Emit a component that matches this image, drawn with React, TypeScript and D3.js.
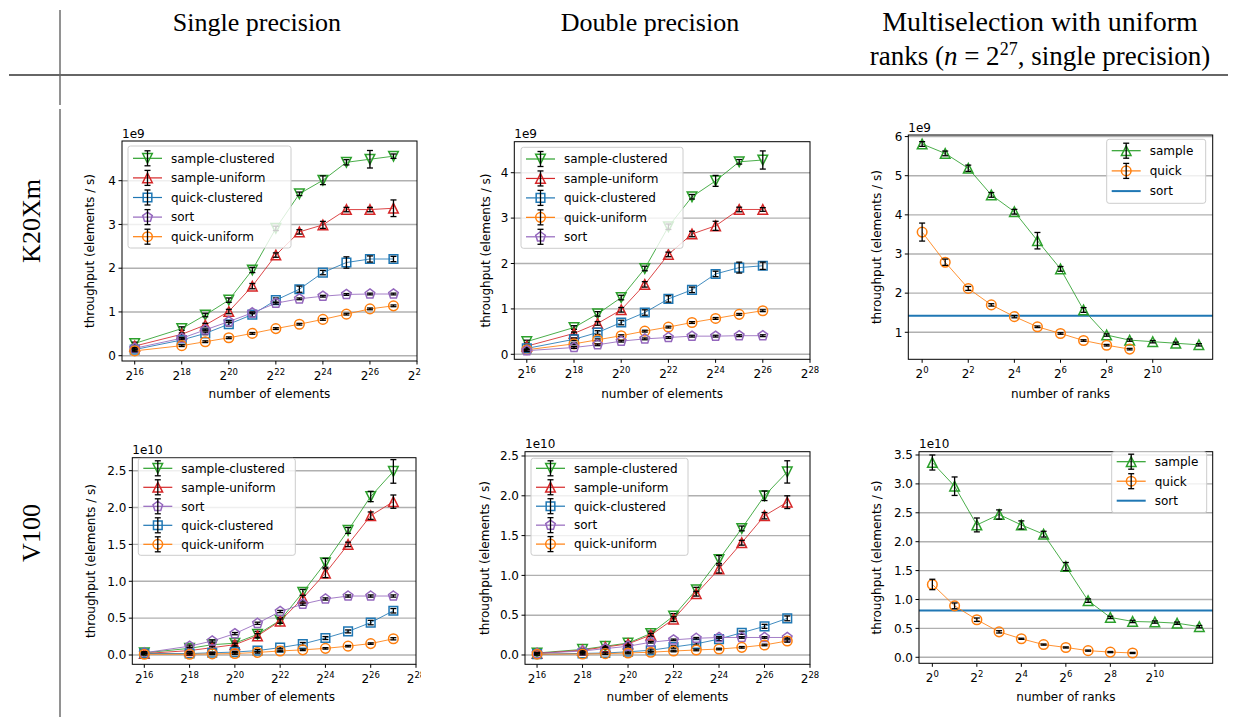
import React from 'react';
import * as d3 from 'd3';

// ---------------- data ----------------
const ELEM_EXP = [16, 18, 19, 20, 21, 22, 23, 24, 25, 26, 27];
const ELEM_EXP_DP_K20 = [16, 18, 19, 20, 21, 22, 23, 24, 25, 26];
const RANK_EXP = [0, 1, 2, 3, 4, 5, 6, 7, 8, 9, 10, 11, 12];
const RANK_EXP_QUICK = [0, 1, 2, 3, 4, 5, 6, 7, 8, 9];
const ELEM_TICKS = [16, 18, 20, 22, 24, 26, 28];
const RANK_TICKS = [0, 2, 4, 6, 8, 10];

// K20Xm single precision (1e9)
const K20_SP_SC = [0.28, 0.62, 0.93, 1.27, 1.96, 2.91, 3.7, 4.01, 4.42, 4.49, 4.56];
const K20_SP_SC_ERR = [0.03, 0.04, 0.04, 0.05, 0.06, 0.05, 0.04, 0.1, 0.06, 0.2, 0.05];
const K20_SP_SU = [0.22, 0.49, 0.7, 1.01, 1.59, 2.3, 2.83, 2.99, 3.34, 3.34, 3.37];
const K20_SP_SU_ERR = [0.03, 0.03, 0.04, 0.05, 0.06, 0.05, 0.05, 0.08, 0.05, 0.05, 0.19];
const K20_SP_QC = [0.14, 0.36, 0.51, 0.72, 0.94, 1.27, 1.52, 1.9, 2.13, 2.21, 2.21];
const K20_SP_QC_ERR = [0.02, 0.03, 0.03, 0.04, 0.05, 0.05, 0.07, 0.05, 0.13, 0.07, 0.06];
const K20_SP_SORT = [0.17, 0.4, 0.59, 0.78, 0.98, 1.2, 1.3, 1.36, 1.4, 1.41, 1.41];
const K20_SP_SORT_ERR = [0.02, 0.02, 0.02, 0.02, 0.02, 0.02, 0.02, 0.02, 0.02, 0.02, 0.02];
const K20_SP_QU = [0.11, 0.23, 0.32, 0.41, 0.51, 0.62, 0.72, 0.83, 0.95, 1.07, 1.14];
const K20_SP_QU_ERR = [0.02, 0.02, 0.02, 0.02, 0.02, 0.02, 0.02, 0.02, 0.02, 0.02, 0.02];

// K20Xm double precision (1e9)
const K20_DP_SC = [0.28, 0.59, 0.89, 1.25, 1.89, 2.81, 3.47, 3.82, 4.24, 4.28];
const K20_DP_SC_ERR = [0.03, 0.04, 0.05, 0.05, 0.05, 0.06, 0.05, 0.12, 0.05, 0.2];
const K20_DP_SU = [0.18, 0.46, 0.68, 0.98, 1.54, 2.2, 2.65, 2.83, 3.19, 3.19];
const K20_DP_SU_ERR = [0.03, 0.03, 0.04, 0.05, 0.06, 0.05, 0.06, 0.1, 0.05, 0.04];
const K20_DP_QC = [0.13, 0.33, 0.48, 0.7, 0.92, 1.22, 1.42, 1.77, 1.91, 1.95];
const K20_DP_QC_ERR = [0.02, 0.03, 0.04, 0.05, 0.06, 0.07, 0.06, 0.06, 0.12, 0.08];
const K20_DP_QU = [0.1, 0.23, 0.32, 0.41, 0.51, 0.6, 0.7, 0.79, 0.88, 0.96];
const K20_DP_QU_ERR = [0.02, 0.02, 0.02, 0.02, 0.02, 0.02, 0.02, 0.02, 0.02, 0.02];
const K20_DP_SORT = [0.08, 0.15, 0.21, 0.29, 0.34, 0.37, 0.4, 0.4, 0.41, 0.41];
const K20_DP_SORT_ERR = [0.02, 0.02, 0.02, 0.02, 0.02, 0.02, 0.02, 0.02, 0.02, 0.02];

// K20Xm multiselection (1e9)
const K20_MS_SAMPLE = [5.81, 5.57, 5.19, 4.51, 4.08, 3.34, 2.62, 1.57, 0.93, 0.8, 0.76, 0.72, 0.68];
const K20_MS_SAMPLE_ERR = [0.06, 0.06, 0.08, 0.06, 0.06, 0.21, 0.06, 0.06, 0.03, 0.03, 0.03, 0.03, 0.03];
const K20_MS_QUICK = [3.56, 2.79, 2.12, 1.7, 1.4, 1.14, 0.97, 0.79, 0.67, 0.57];
const K20_MS_QUICK_ERR = [0.23, 0.08, 0.05, 0.03, 0.03, 0.02, 0.02, 0.02, 0.02, 0.02];
const K20_MS_SORT = 1.42;

// V100 single precision (1e10)
const V100_SP_SC = [0.03, 0.09, 0.14, 0.16, 0.28, 0.47, 0.85, 1.25, 1.69, 2.15, 2.49];
const V100_SP_SC_ERR = [0.01, 0.01, 0.02, 0.03, 0.04, 0.04, 0.04, 0.06, 0.04, 0.07, 0.16];
const V100_SP_SU = [0.02, 0.06, 0.1, 0.14, 0.26, 0.46, 0.77, 1.11, 1.5, 1.89, 2.08];
const V100_SP_SU_ERR = [0.01, 0.01, 0.02, 0.02, 0.03, 0.03, 0.04, 0.06, 0.03, 0.05, 0.09];
const V100_SP_SORT = [0.03, 0.12, 0.19, 0.29, 0.43, 0.59, 0.69, 0.76, 0.8, 0.8, 0.8];
const V100_SP_SORT_ERR = [0.015, 0.015, 0.015, 0.015, 0.015, 0.015, 0.015, 0.015, 0.015, 0.015, 0.015];
const V100_SP_QC = [0.02, 0.02, 0.03, 0.04, 0.06, 0.1, 0.15, 0.23, 0.32, 0.44, 0.6];
const V100_SP_QC_ERR = [0.01, 0.01, 0.01, 0.01, 0.015, 0.015, 0.02, 0.02, 0.02, 0.03, 0.03];
const V100_SP_QU = [0.01, 0.01, 0.015, 0.02, 0.035, 0.055, 0.07, 0.09, 0.12, 0.155, 0.22];
const V100_SP_QU_ERR = [0.01, 0.01, 0.01, 0.01, 0.01, 0.01, 0.01, 0.01, 0.01, 0.01, 0.015];

// V100 double precision (1e10)
const V100_DP_SC = [0.025, 0.07, 0.11, 0.15, 0.27, 0.49, 0.82, 1.2, 1.59, 2.0, 2.3];
const V100_DP_SC_ERR = [0.01, 0.01, 0.01, 0.02, 0.03, 0.03, 0.03, 0.05, 0.03, 0.06, 0.14];
const V100_DP_SU = [0.02, 0.06, 0.1, 0.14, 0.25, 0.45, 0.77, 1.08, 1.41, 1.75, 1.92];
const V100_DP_SU_ERR = [0.01, 0.01, 0.01, 0.02, 0.02, 0.03, 0.03, 0.05, 0.03, 0.04, 0.08];
const V100_DP_QC = [0.01, 0.02, 0.025, 0.04, 0.06, 0.1, 0.14, 0.2, 0.28, 0.36, 0.46];
const V100_DP_QC_ERR = [0.01, 0.01, 0.01, 0.015, 0.015, 0.015, 0.015, 0.02, 0.02, 0.025, 0.03];
const V100_DP_SORT = [0.02, 0.05, 0.08, 0.11, 0.16, 0.19, 0.21, 0.22, 0.22, 0.22, 0.22];
const V100_DP_SORT_ERR = [0.01, 0.01, 0.01, 0.01, 0.01, 0.01, 0.01, 0.01, 0.01, 0.01, 0.01];
const V100_DP_QU = [0.01, 0.012, 0.017, 0.025, 0.035, 0.05, 0.063, 0.075, 0.096, 0.126, 0.176];
const V100_DP_QU_ERR = [0.01, 0.01, 0.01, 0.01, 0.01, 0.01, 0.01, 0.01, 0.01, 0.01, 0.015];

// V100 multiselection (1e10)
const V100_MS_SAMPLE = [3.37, 2.96, 2.29, 2.47, 2.29, 2.13, 1.57, 0.98, 0.69, 0.62, 0.61, 0.59, 0.53];
const V100_MS_SAMPLE_ERR = [0.13, 0.16, 0.12, 0.08, 0.07, 0.05, 0.07, 0.03, 0.02, 0.02, 0.02, 0.02, 0.02];
const V100_MS_QUICK = [1.26, 0.89, 0.65, 0.44, 0.32, 0.22, 0.17, 0.115, 0.09, 0.075];
const V100_MS_QUICK_ERR = [0.09, 0.05, 0.03, 0.02, 0.01, 0.01, 0.01, 0.01, 0.01, 0.01];
const V100_MS_SORT = 0.81;

const COL_HEADERS = ['Single precision', 'Double precision'];
const ROW_LABELS = ['K20Xm', 'V100'];

// ---------------- styling ----------------
const C = {
  blue: '#1f77b4',
  orange: '#ff7f0e',
  green: '#2ca02c',
  red: '#d62728',
  purple: '#9467bd',
};
const FONT = "'DejaVu Sans', Verdana, sans-serif";
const SERIF = "'Liberation Serif', 'Times New Roman', serif";

type Marker = 'v' | '^' | 's' | 'o' | 'p' | 'none';
interface Series {
  label: string;
  color: string;
  marker: Marker;
  xs: number[];
  ys: number[];
  err: number[];
}
interface HLine { label: string; color: string; value: number }

const SC = (xs: number[], ys: number[], err: number[]): Series => ({ label: 'sample-clustered', color: C.green, marker: 'v', xs, ys, err });
const SU = (xs: number[], ys: number[], err: number[]): Series => ({ label: 'sample-uniform', color: C.red, marker: '^', xs, ys, err });
const QC = (xs: number[], ys: number[], err: number[]): Series => ({ label: 'quick-clustered', color: C.blue, marker: 's', xs, ys, err });
const SO = (xs: number[], ys: number[], err: number[]): Series => ({ label: 'sort', color: C.purple, marker: 'p', xs, ys, err });
const QU = (xs: number[], ys: number[], err: number[]): Series => ({ label: 'quick-uniform', color: C.orange, marker: 'o', xs, ys, err });

function markerPath(m: Marker, r: number): string {
  switch (m) {
    case 'v':
      return `M0,${r}L${-r},${-r}L${r},${-r}Z`;
    case '^':
      return `M0,${-r}L${-r},${r}L${r},${r}Z`;
    case 's': {
      const s = r * 0.9;
      return `M${-s},${-s}L${s},${-s}L${s},${s}L${-s},${s}Z`;
    }
    case 'p': {
      const pts = d3.range(5).map((i) => {
        const a = -Math.PI / 2 + (i * 2 * Math.PI) / 5;
        return [r * 1.05 * Math.cos(a), r * 1.05 * Math.sin(a)];
      });
      return 'M' + pts.map((p) => p[0].toFixed(2) + ',' + p[1].toFixed(2)).join('L') + 'Z';
    }
    default:
      return '';
  }
}

function MarkerShape({ m, x, y, color }: { m: Marker; x: number; y: number; color: string }) {
  const r = 4.8;
  if (m === 'o') return <circle cx={x} cy={y} r={r} fill="none" stroke={color} strokeWidth={1.5} />;
  return <path d={markerPath(m, r)} transform={`translate(${x},${y})`} fill="none" stroke={color} strokeWidth={1.5} />;
}

function ErrBar({ x, y0, y1 }: { x: number; y0: number; y1: number }) {
  const cw = 3;
  return (
    <g stroke="#000" strokeWidth={1.3}>
      <line x1={x} x2={x} y1={y0} y2={y1} />
      <line x1={x - cw} x2={x + cw} y1={y0} y2={y0} />
      <line x1={x - cw} x2={x + cw} y1={y1} y2={y1} />
    </g>
  );
}

interface PanelCfg {
  left: number; right: number; top: number; bottom: number;
  xDom: [number, number]; // exponents of 2
  yDom: [number, number];
  yTicks: number[];
  yFmt: (v: number) => string;
  xTicks: number[];
  offset: string;
  xLabel: string;
  yLabelX: number;
  xLabelY: number;
  series: Series[];
  hline?: HLine;
  legend: { x: number; y: number; w: number; h: number; row0: number; dy: number };
  clipRight?: number;
  id: string;
}

function Panel({ cfg }: { cfg: PanelCfg }) {
  const x = d3.scaleLog().base(2).domain([Math.pow(2, cfg.xDom[0]), Math.pow(2, cfg.xDom[1])]).range([cfg.left, cfg.right]);
  const y = d3.scaleLinear().domain(cfg.yDom).range([cfg.bottom, cfg.top]);
  const line = d3.line<[number, number]>().x((d) => x(Math.pow(2, d[0]))).y((d) => y(d[1]));
  const midY = (cfg.top + cfg.bottom) / 2;
  const clipId = 'clip-' + cfg.id;
  const content = (
    <g fontFamily={FONT}>
      {/* grid */}
      {cfg.yTicks.map((t) => (
        <line key={'g' + t} x1={cfg.left} x2={cfg.right} y1={y(t)} y2={y(t)} stroke="#b0b0b0" strokeWidth={1.4} />
      ))}
      {/* horizontal reference line */}
      {cfg.hline && (
        <line x1={cfg.left} x2={cfg.right} y1={y(cfg.hline.value)} y2={y(cfg.hline.value)} stroke={cfg.hline.color} strokeWidth={2} />
      )}
      {/* series */}
      {cfg.series.map((s) => {
        const pts = s.xs.map((e, i) => [e, s.ys[i]] as [number, number]);
        return (
          <g key={s.label}>
            <path d={line(pts) || ''} fill="none" stroke={s.color} strokeWidth={1} strokeOpacity={0.85} />
            {pts.map((p, i) => (
              <MarkerShape key={'m' + i} m={s.marker} x={x(Math.pow(2, p[0]))} y={y(p[1])} color={s.color} />
            ))}
            {pts.map((p, i) => (
              <ErrBar key={'e' + i} x={x(Math.pow(2, p[0]))} y0={y(p[1] - s.err[i])} y1={y(p[1] + s.err[i])} />
            ))}
          </g>
        );
      })}
      {/* frame */}
      <rect x={cfg.left} y={cfg.top} width={cfg.right - cfg.left} height={cfg.bottom - cfg.top} fill="none" stroke="#000" strokeWidth={1} />
      {/* y ticks */}
      {cfg.yTicks.map((t) => (
        <g key={'yt' + t}>
          <line x1={cfg.left - 3.5} x2={cfg.left} y1={y(t)} y2={y(t)} stroke="#000" strokeWidth={1} />
          <text x={cfg.left - 6} y={y(t) + 4.3} textAnchor="end" fontSize={12} fill="#000">{cfg.yFmt(t)}</text>
        </g>
      ))}
      {/* x ticks */}
      {cfg.xTicks.map((t) => {
        const px = x(Math.pow(2, t));
        return (
          <g key={'xt' + t}>
            <line x1={px} x2={px} y1={cfg.bottom} y2={cfg.bottom + 3.5} stroke="#000" strokeWidth={1} />
            <text x={px} y={cfg.bottom + 18.5} textAnchor="middle" fontSize={12} fill="#000">
              <tspan>2</tspan>
              <tspan dy={-5} fontSize={8.5}>{String(t)}</tspan>
            </text>
          </g>
        );
      })}
      {/* offset text */}
      <text x={cfg.left} y={cfg.top - 3.5} fontSize={12} fill="#000">{cfg.offset}</text>
      {/* axis labels */}
      <text x={(cfg.left + cfg.right) / 2} y={cfg.xLabelY} textAnchor="middle" fontSize={12} fill="#000">{cfg.xLabel}</text>
      <text transform={`translate(${cfg.yLabelX},${midY}) rotate(-90)`} textAnchor="middle" dy={4} fontSize={12} fill="#000">
        throughput (elements / s)
      </text>
      {/* legend */}
      <g>
        <rect x={cfg.legend.x} y={cfg.legend.y} width={cfg.legend.w} height={cfg.legend.h} rx={2.5} fill="#fff" fillOpacity={0.8} stroke="#cccccc" strokeWidth={1} />
        {cfg.series.map((s, i) => {
          const cy = cfg.legend.row0 + i * cfg.legend.dy;
          const lx = cfg.legend.x + 5;
          return (
            <g key={'l' + s.label}>
              <line x1={lx} x2={lx + 29} y1={cy} y2={cy} stroke={s.color} strokeWidth={1.2} />
              <MarkerShape m={s.marker} x={lx + 14.5} y={cy} color={s.color} />
              <ErrBar x={lx + 14.5} y0={cy - 7.5} y1={cy + 7.5} />
              <text x={cfg.legend.x + 43} y={cy + 4.3} fontSize={12} fill="#000">{s.label}</text>
            </g>
          );
        })}
        {cfg.hline && (() => {
          const cy = cfg.legend.row0 + cfg.series.length * cfg.legend.dy;
          const lx = cfg.legend.x + 5;
          return (
            <g>
              <line x1={lx} x2={lx + 29} y1={cy} y2={cy} stroke={cfg.hline.color} strokeWidth={2} />
              <text x={cfg.legend.x + 43} y={cy + 4.3} fontSize={12} fill="#000">{cfg.hline.label}</text>
            </g>
          );
        })()}
      </g>
    </g>
  );
  if (cfg.clipRight) {
    return (
      <g>
        <defs>
          <clipPath id={clipId}>
            <rect x={0} y={0} width={cfg.clipRight} height={717} />
          </clipPath>
        </defs>
        <g clipPath={`url(#${clipId})`}>{content}</g>
      </g>
    );
  }
  return content;
}

const f0 = (v: number) => d3.format('d')(v);
const f1 = (v: number) => d3.format('.1f')(v);

const PANELS: PanelCfg[] = [
  {
    id: 'p1', left: 122, right: 417, top: 141, bottom: 361,
    xDom: [15.46, 28], yDom: [-0.121, 4.907], yTicks: [0, 1, 2, 3, 4], yFmt: f0, xTicks: ELEM_TICKS,
    offset: '1e9', xLabel: 'number of elements', yLabelX: 90, xLabelY: 398,
    series: [
      SC(ELEM_EXP, K20_SP_SC, K20_SP_SC_ERR),
      SU(ELEM_EXP, K20_SP_SU, K20_SP_SU_ERR),
      QC(ELEM_EXP, K20_SP_QC, K20_SP_QC_ERR),
      SO(ELEM_EXP, K20_SP_SORT, K20_SP_SORT_ERR),
      QU(ELEM_EXP, K20_SP_QU, K20_SP_QU_ERR),
    ],
    legend: { x: 128, y: 146, w: 163, h: 102, row0: 158.3, dy: 19.6 },
    clipRight: 421,
  },
  {
    id: 'p2', left: 514.3, right: 810, top: 141.7, bottom: 359.3,
    xDom: [15.47, 28], yDom: [-0.11, 4.683], yTicks: [0, 1, 2, 3, 4], yFmt: f0, xTicks: ELEM_TICKS,
    offset: '1e9', xLabel: 'number of elements', yLabelX: 486, xLabelY: 398,
    series: [
      SC(ELEM_EXP_DP_K20, K20_DP_SC, K20_DP_SC_ERR),
      SU(ELEM_EXP_DP_K20, K20_DP_SU, K20_DP_SU_ERR),
      QC(ELEM_EXP_DP_K20, K20_DP_QC, K20_DP_QC_ERR),
      QU(ELEM_EXP_DP_K20, K20_DP_QU, K20_DP_QU_ERR),
      SO(ELEM_EXP_DP_K20, K20_DP_SORT, K20_DP_SORT_ERR),
    ],
    legend: { x: 521, y: 147.3, w: 162, h: 101, row0: 159, dy: 19.45 },
  },
  {
    id: 'p3', left: 908.3, right: 1212.7, top: 135, bottom: 359.3,
    xDom: [-0.6, 12.6], yDom: [0.31, 6.04], yTicks: [1, 2, 3, 4, 5, 6], yFmt: f0, xTicks: RANK_TICKS,
    offset: '1e9', xLabel: 'number of ranks', yLabelX: 877, xLabelY: 398,
    series: [
      { label: 'sample', color: C.green, marker: '^', xs: RANK_EXP, ys: K20_MS_SAMPLE, err: K20_MS_SAMPLE_ERR },
      { label: 'quick', color: C.orange, marker: 'o', xs: RANK_EXP_QUICK, ys: K20_MS_QUICK, err: K20_MS_QUICK_ERR },
    ],
    hline: { label: 'sort', color: C.blue, value: K20_MS_SORT },
    legend: { x: 1106.7, y: 139.3, w: 99, h: 64, row0: 150.7, dy: 20.2 },
  },
  {
    id: 'p4', left: 132.3, right: 416, top: 457.7, bottom: 664.3,
    xDom: [15.47, 28], yDom: [-0.126, 2.676], yTicks: [0, 0.5, 1, 1.5, 2, 2.5], yFmt: f1, xTicks: ELEM_TICKS,
    offset: '1e10', xLabel: 'number of elements', yLabelX: 91, xLabelY: 701,
    series: [
      SC(ELEM_EXP, V100_SP_SC, V100_SP_SC_ERR),
      SU(ELEM_EXP, V100_SP_SU, V100_SP_SU_ERR),
      SO(ELEM_EXP, V100_SP_SORT, V100_SP_SORT_ERR),
      QC(ELEM_EXP, V100_SP_QC, V100_SP_QC_ERR),
      QU(ELEM_EXP, V100_SP_QU, V100_SP_QU_ERR),
    ],
    legend: { x: 138.3, y: 458.3, w: 157, h: 97, row0: 468.3, dy: 19 },
    clipRight: 421,
  },
  {
    id: 'p5', left: 525, right: 810, top: 451.7, bottom: 664.3,
    xDom: [15.47, 28], yDom: [-0.117, 2.554], yTicks: [0, 0.5, 1, 1.5, 2, 2.5], yFmt: f1, xTicks: ELEM_TICKS,
    offset: '1e10', xLabel: 'number of elements', yLabelX: 485, xLabelY: 701,
    series: [
      SC(ELEM_EXP, V100_DP_SC, V100_DP_SC_ERR),
      SU(ELEM_EXP, V100_DP_SU, V100_DP_SU_ERR),
      QC(ELEM_EXP, V100_DP_QC, V100_DP_QC_ERR),
      SO(ELEM_EXP, V100_DP_SORT, V100_DP_SORT_ERR),
      QU(ELEM_EXP, V100_DP_QU, V100_DP_QU_ERR),
    ],
    legend: { x: 531, y: 458.3, w: 157, h: 97, row0: 468.3, dy: 18.95 },
  },
  {
    id: 'p6', left: 919, right: 1212.7, top: 451.7, bottom: 663.3,
    xDom: [-0.6, 12.6], yDom: [-0.104, 3.557], yTicks: [0, 0.5, 1, 1.5, 2, 2.5, 3, 3.5], yFmt: f1, xTicks: RANK_TICKS,
    offset: '1e10', xLabel: 'number of ranks', yLabelX: 877, xLabelY: 701,
    series: [
      { label: 'sample', color: C.green, marker: '^', xs: RANK_EXP, ys: V100_MS_SAMPLE, err: V100_MS_SAMPLE_ERR },
      { label: 'quick', color: C.orange, marker: 'o', xs: RANK_EXP_QUICK, ys: V100_MS_QUICK, err: V100_MS_QUICK_ERR },
    ],
    hline: { label: 'sort', color: C.blue, value: V100_MS_SORT },
    legend: { x: 1111.7, y: 451.7, w: 95, h: 61, row0: 461.7, dy: 19.5 },
  },
];

export default function App() {
  return (
    <svg width={1235} height={717} style={{ position: 'absolute', left: 0, top: 0, background: '#fff' }}>
      <rect x={0} y={0} width={1235} height={717} fill="#fff" />
      {/* table rules */}
      <line x1={60} x2={60} y1={10} y2={105} stroke="#777" strokeWidth={1.6} />
      <line x1={60} x2={60} y1={109} y2={717} stroke="#777" strokeWidth={1.6} />
      <line x1={9} x2={1228} y1={75} y2={75} stroke="#666" strokeWidth={2} />
      {/* headers */}
      <g fontFamily={SERIF} fill="#000" textAnchor="middle">
        <text x={257} y={31} fontSize={26}>{COL_HEADERS[0]}</text>
        <text x={650} y={31} fontSize={26}>{COL_HEADERS[1]}</text>
        <text x={1040} y={31} fontSize={28}>Multiselection with uniform</text>
        <text x={1040} y={65} fontSize={27}>
          <tspan>ranks (</tspan>
          <tspan fontStyle="italic">n</tspan>
          <tspan> = 2</tspan>
          <tspan dy={-10} fontSize={18}>27</tspan>
          <tspan dy={10}>, single precision)</tspan>
        </text>
      </g>
      {/* row labels */}
      <g fontFamily={SERIF} fontSize={26} fill="#000" textAnchor="middle">
        <text transform="translate(40,221) rotate(-90)">{ROW_LABELS[0]}</text>
        <text transform="translate(40,533) rotate(-90)">{ROW_LABELS[1]}</text>
      </g>
      {PANELS.map((p) => (
        <Panel key={p.id} cfg={p} />
      ))}
    </svg>
  );
}
